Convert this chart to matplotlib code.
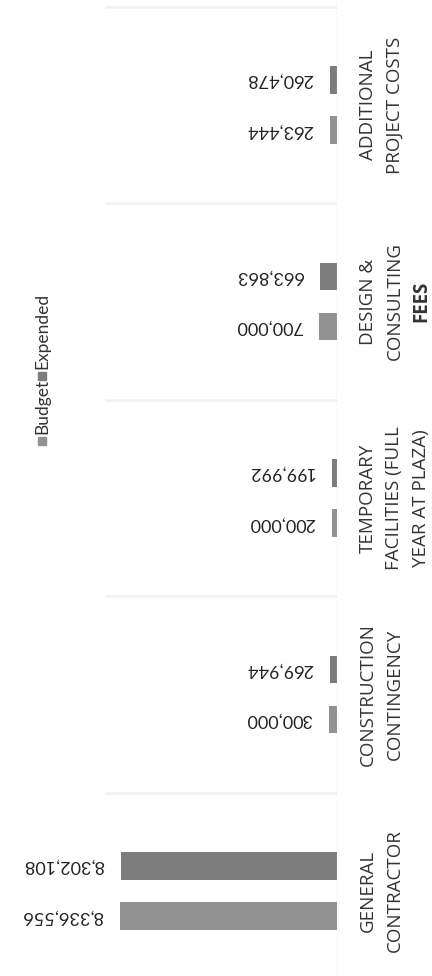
import matplotlib
matplotlib.use("Agg")
import matplotlib.pyplot as plt
from matplotlib.patches import Rectangle
import matplotlib.transforms as mtransforms

# data (chart is scanned rotated: categories run bottom -> top)
categories = [
    ["GENERAL", "CONTRACTOR"],
    ["CONSTRUCTION", "CONTINGENCY"],
    ["TEMPORARY", "FACILITIES (FULL", "YEAR AT PLAZA)"],
    ["DESIGN &", "CONSULTING", "FEES"],
    ["ADDITIONAL", "PROJECT COSTS"],
]
budget = [8336556, 300000, 200000, 700000, 263444]
expended = [8302108, 269944, 199992, 663863, 260478]
series_names = ["Budget", "Expended"]

budget_color = "#929292"
expended_color = "#7c7c7c"

W, H = 432, 976
fig = plt.figure(figsize=(W / 100, H / 100), dpi=100)
base_px = 337
ax = fig.add_axes([0, 0, base_px / W, 1])

n = len(categories)
pitch = 196.5
y0 = 891
ax.set_ylim(-(H - y0) / pitch, y0 / pitch)
scale = 217 / budget[0]
ax.set_xlim(base_px / scale, 0)

ys = list(range(n))
off = 0.128
bh = 0.14
ax.barh([y - off for y in ys], budget, height=bh, color=budget_color)
ax.barh([y + off for y in ys], expended, height=bh, color=expended_color)

for y, b, e in zip(ys, budget, expended):
    for v, yy in ((b, y - off), (e, y + off)):
        ax.annotate(f"{v:,}", (v, yy), xytext=(-17, 0), textcoords="offset pixels",
                    rotation=180, ha="right", va="center",
                    fontsize=13, family="Lato", color="#222222")

# faint separators between categories
for y in ys:
    ax.hlines(y + 0.5, 0, 8.9e6, color="#f2f2f2", lw=2)
ax.axvline(0, color="#c4c4c4", ls=(0, (1, 2)), lw=1)

ax.axis("off")

# category labels, rotated, to the right of the baseline
trans = mtransforms.blended_transform_factory(fig.transFigure, ax.transData)
for y, lines in zip(ys, categories):
    for k, line in enumerate(lines):
        bold = line == "FEES"
        fig.text((368 + 26.5 * k) / W, y, line, transform=trans, rotation=90,
                 ha="center", va="center", fontsize=13.5, family="Open Sans",
                 fontweight="bold" if bold else "normal", color="#333333")

# legend, rotated
sq = 8
for name, col, ytop in ((series_names[0], budget_color, 445),
                        (series_names[1], expended_color, 380)):
    fig.patches.append(Rectangle(((42 - sq / 2) / W, (H - ytop) / H), sq / W, sq / H,
                                 transform=fig.transFigure, color=col))
    fig.text(42 / W, (H - ytop + sq + 3) / H, name, rotation=90, ha="center",
             va="bottom", fontsize=12.5, family="Lato", color="#333333")

fig.savefig("out.png", dpi=100)
